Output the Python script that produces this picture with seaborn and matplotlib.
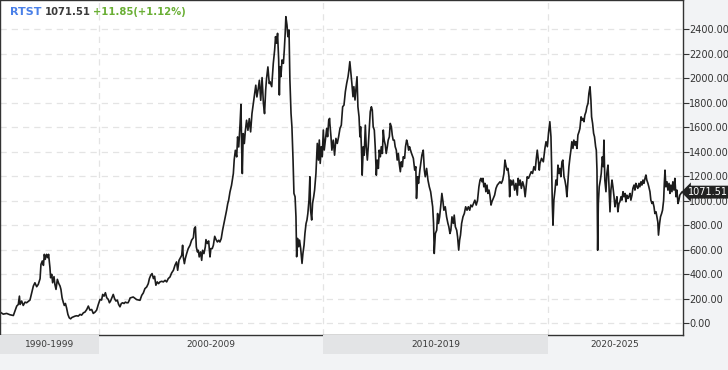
import numpy as np
import pandas as pd
import seaborn as sns
import matplotlib.pyplot as plt
from matplotlib.transforms import blended_transform_factory

sns.set_style('white')
plt.rcParams['font.family'] = ['DejaVu Sans']

# RTS index closes (decimal year, index points)
years_a = [1995.60, 1995.74, 1995.89, 1996.04, 1996.19, 1996.26, 1996.34, 1996.41, 1996.46, 1996.49,
           1996.56, 1996.63, 1996.71, 1996.78, 1996.93, 1997.01, 1997.08, 1997.15, 1997.23, 1997.30,
           1997.38, 1997.42, 1997.48, 1997.53, 1997.57, 1997.61, 1997.67, 1997.72, 1997.76, 1997.82,
           1997.85, 1997.90, 1997.94, 1998.00, 1998.04, 1998.09, 1998.15, 1998.21, 1998.27, 1998.31,
           1998.36, 1998.42, 1998.46, 1998.51, 1998.56, 1998.62, 1998.68, 1998.74, 1998.80, 1998.86,
           1998.94, 1999.01, 1999.08, 1999.16, 1999.23, 1999.31, 1999.38, 1999.46, 1999.53, 1999.60,
           1999.68, 1999.75, 1999.83, 1999.90, 1999.975, 2000.05, 2000.12, 2000.17, 2000.23, 2000.29,
           2000.35, 2000.42, 2000.47, 2000.52, 2000.58, 2000.64, 2000.70, 2000.76, 2000.82, 2000.88,
           2000.94, 2001.00, 2001.06, 2001.12, 2001.18, 2001.24, 2001.30, 2001.36]
values_a = [93, 76, 82, 71, 65, 100, 142, 155, 223, 155,
            183, 147, 174, 169, 191, 251, 305, 332, 300, 319,
            365, 482, 510, 474, 564, 523, 564, 537, 564, 455,
            373, 401, 332, 382, 319, 278, 360, 327, 305, 278,
            210, 169, 147, 163, 128, 74, 46, 38, 49, 54,
            60, 63, 60, 74, 68, 87, 93, 114, 142, 109,
            114, 82, 93, 109, 155, 196, 191, 237, 223, 251,
            210, 196, 169, 183, 210, 237, 202, 183, 191, 155,
            136, 163, 169, 163, 174, 169, 169, 191]

years_b = [2001.39, 2001.53, 2001.68, 2001.83, 2001.91, 2001.98, 2002.05, 2002.13, 2002.20, 2002.25,
           2002.31, 2002.37, 2002.43, 2002.48, 2002.54, 2002.60, 2002.66, 2002.72, 2002.80, 2002.87,
           2002.95, 2003.02, 2003.09, 2003.17, 2003.24, 2003.32, 2003.39, 2003.46, 2003.51, 2003.57,
           2003.61, 2003.69, 2003.73, 2003.76, 2003.81, 2003.85, 2003.91, 2003.98, 2004.06, 2004.13,
           2004.21, 2004.25, 2004.30, 2004.34, 2004.39, 2004.43, 2004.47, 2004.53, 2004.58, 2004.62,
           2004.68, 2004.74, 2004.77, 2004.83, 2004.89, 2004.95, 2004.99, 2005.05, 2005.10, 2005.16,
           2005.22, 2005.28, 2005.34, 2005.39, 2005.45, 2005.51, 2005.57, 2005.63, 2005.69, 2005.74,
           2005.78, 2005.84, 2005.91, 2005.99, 2006.03, 2006.08, 2006.14, 2006.18, 2006.23, 2006.29,
           2006.33, 2006.36, 2006.39, 2006.43, 2006.48, 2006.52, 2006.58, 2006.64, 2006.70, 2006.76,
           2006.82, 2006.88, 2006.94, 2006.99, 2007.04, 2007.10, 2007.15, 2007.21, 2007.27, 2007.33,
           2007.38, 2007.43, 2007.47, 2007.53, 2007.59]
values_b = [208, 216, 195, 189, 230, 249, 284, 298, 325, 366,
            393, 407, 366, 385, 312, 339, 325, 339, 344, 339,
            352, 339, 366, 380, 412, 434, 475, 502, 434, 515,
            529, 556, 638, 543, 488, 529, 570, 611, 638, 679,
            700, 774, 788, 624, 584, 597, 543, 584, 515, 597,
            570, 624, 684, 652, 673, 543, 611, 611, 638, 711,
            684, 665, 679, 665, 692, 760, 815, 869, 924, 978,
            1005, 1073, 1128, 1223, 1337, 1413, 1359, 1522, 1440, 1631,
            1788, 1440, 1223, 1549, 1468, 1563, 1658, 1576, 1671, 1563,
            1712, 1794, 1876, 1944, 1848, 1916, 1984, 1821, 2006, 1794,
            1712, 1903, 1998, 2093, 1957]

years_c = [2007.62, 2007.70, 2007.77, 2007.83, 2007.87, 2007.92, 2007.96, 2008.01, 2008.04, 2008.07,
           2008.11, 2008.16, 2008.22, 2008.26, 2008.30, 2008.33, 2008.38, 2008.42, 2008.47, 2008.51,
           2008.56, 2008.60, 2008.65, 2008.69, 2008.74, 2008.78, 2008.81, 2008.85, 2008.90, 2008.94,
           2008.99, 2009.05, 2009.09, 2009.14, 2009.18, 2009.23, 2009.27, 2009.31, 2009.36, 2009.40,
           2009.43, 2009.48, 2009.52, 2009.57, 2009.61, 2009.67, 2009.73, 2009.78, 2009.82, 2009.86,
           2009.91, 2009.95, 2009.999, 2010.04, 2010.09, 2010.15, 2010.19, 2010.24, 2010.28]
values_c = [1973, 1932, 2122, 2231, 2340, 2286, 2367, 2150, 1864, 2095,
            2014, 2150, 2122, 2231, 2367, 2503, 2435, 2340, 2395, 1986,
            1714, 1605, 1333, 1061, 1034, 871, 544, 694, 626, 680,
            612, 490, 571, 639, 735, 816, 844, 898, 1007, 1197,
            925, 844, 980, 1034, 1088, 1224, 1469, 1333, 1497, 1306,
            1442, 1360, 1578, 1415, 1497, 1592, 1524, 1660, 1673]

years_d = [2010.29, 2010.34, 2010.38, 2010.44, 2010.50, 2010.56, 2010.62, 2010.68, 2010.74, 2010.80,
           2010.86, 2010.92, 2010.98, 2011.04, 2011.10, 2011.14, 2011.18, 2011.23, 2011.27, 2011.32,
           2011.36, 2011.41, 2011.45, 2011.50, 2011.54, 2011.59, 2011.63, 2011.66, 2011.70, 2011.73,
           2011.78, 2011.82, 2011.87, 2011.91, 2011.96, 2012.00, 2012.05, 2012.09, 2012.14, 2012.18,
           2012.22, 2012.27, 2012.31, 2012.36, 2012.40, 2012.45, 2012.49, 2012.54, 2012.58, 2012.63,
           2012.67, 2012.71, 2012.76, 2012.80, 2012.85, 2012.89, 2012.94, 2012.98, 2013.03, 2013.07,
           2013.11, 2013.16, 2013.20, 2013.25, 2013.29, 2013.34, 2013.38, 2013.43, 2013.47, 2013.52,
           2013.56, 2013.62, 2013.66, 2013.71, 2013.75, 2013.80, 2013.84]
values_d = [1632, 1523, 1414, 1496, 1373, 1510, 1469, 1523, 1591, 1618,
            1768, 1782, 1891, 1959, 2013, 2068, 2136, 2041, 1959, 1850,
            1932, 1823, 1904, 2013, 1768, 1686, 1523, 1605, 1414, 1210,
            1442, 1373, 1618, 1442, 1333, 1442, 1605, 1728, 1768, 1741,
            1605, 1578, 1442, 1210, 1333, 1265, 1414, 1360, 1442, 1387,
            1578, 1496, 1456, 1387, 1442, 1496, 1523, 1632, 1605, 1537,
            1496, 1496, 1442, 1414, 1333, 1387, 1306, 1238, 1319, 1279,
            1360, 1347, 1442, 1496, 1469, 1414, 1442]

years_e = [2013.86, 2013.93, 2014.01, 2014.07, 2014.12, 2014.15, 2014.20, 2014.24, 2014.30, 2014.35,
           2014.39, 2014.45, 2014.50, 2014.54, 2014.60, 2014.66, 2014.72, 2014.78, 2014.82, 2014.87,
           2014.91, 2014.94, 2014.99, 2015.05, 2015.09, 2015.13, 2015.18, 2015.24, 2015.28, 2015.33,
           2015.37, 2015.43, 2015.49, 2015.55, 2015.59, 2015.64, 2015.68, 2015.73, 2015.79, 2015.83,
           2015.88, 2015.94, 2015.98, 2016.03, 2016.07, 2016.11, 2016.16, 2016.22, 2016.28, 2016.34,
           2016.40, 2016.46, 2016.52, 2016.57, 2016.63, 2016.69, 2016.75, 2016.81, 2016.87, 2016.93,
           2016.98, 2017.02, 2017.07, 2017.11, 2017.15, 2017.20, 2017.24, 2017.29, 2017.33, 2017.38,
           2017.42, 2017.47, 2017.51, 2017.57, 2017.63, 2017.69, 2017.75, 2017.81, 2017.87, 2017.93,
           2017.99, 2018.045, 2018.09, 2018.13, 2018.18, 2018.22, 2018.27, 2018.30, 2018.34, 2018.40,
           2018.46, 2018.52, 2018.58, 2018.64, 2018.68, 2018.73, 2018.77, 2018.82, 2018.88, 2018.94,
           2018.99, 2019.04, 2019.08, 2019.14, 2019.20, 2019.26, 2019.32, 2019.38, 2019.44, 2019.48,
           2019.53, 2019.57, 2019.62]
values_e = [1428, 1387, 1347, 1251, 1279, 1020, 1197, 1143, 1251, 1319,
            1374, 1414, 1251, 1197, 1265, 1170, 1115, 1075, 1020, 952,
            816, 571, 734, 761, 897, 816, 870, 979, 1061, 993,
            924, 952, 870, 816, 789, 734, 761, 870, 816, 884,
            789, 761, 707, 598, 680, 721, 816, 870, 897, 952,
            924, 952, 924, 966, 952, 979, 1006, 966, 1006, 1115,
            1170, 1184, 1156, 1184, 1115, 1143, 1075, 1129, 1061, 1088,
            1047, 966, 993, 1020, 1047, 1102, 1129, 1143, 1156, 1143,
            1170, 1224, 1333, 1292, 1251, 1265, 1197, 1034, 1170, 1129,
            1170, 1088, 1143, 1047, 1184, 1129, 1170, 1102, 1156, 1115,
            1034, 1129, 1197, 1184, 1211, 1238, 1224, 1279, 1251, 1333,
            1414, 1347, 1251]

years_f = [2019.65, 2019.72, 2019.80, 2019.87, 2019.92, 2019.98, 2020.03, 2020.09, 2020.14, 2020.17,
           2020.20, 2020.23, 2020.27, 2020.32, 2020.36, 2020.41, 2020.45, 2020.50, 2020.54, 2020.58,
           2020.63, 2020.67, 2020.72, 2020.76, 2020.81, 2020.85, 2020.90, 2020.94, 2020.99, 2021.03,
           2021.07, 2021.12, 2021.16, 2021.21, 2021.25, 2021.30, 2021.34, 2021.39, 2021.43, 2021.48,
           2021.52, 2021.56, 2021.61, 2021.65, 2021.70, 2021.74, 2021.79, 2021.83, 2021.88, 2021.92,
           2021.95, 2021.995, 2022.04, 2022.08, 2022.13, 2022.16, 2022.19, 2022.22, 2022.25, 2022.29,
           2022.34, 2022.38, 2022.43, 2022.47, 2022.50, 2022.54, 2022.59, 2022.63, 2022.68, 2022.72,
           2022.77, 2022.81, 2022.86, 2022.90, 2022.95, 2022.99, 2023.03, 2023.08, 2023.12, 2023.17,
           2023.21, 2023.26, 2023.30, 2023.35, 2023.39, 2023.44, 2023.48, 2023.52, 2023.57, 2023.61,
           2023.66, 2023.70, 2023.75, 2023.79, 2023.84, 2023.88, 2023.92, 2023.97, 2024.01, 2024.06,
           2024.10, 2024.15, 2024.19, 2024.24, 2024.28, 2024.33, 2024.37, 2024.41, 2024.46, 2024.50,
           2024.55, 2024.59, 2024.64, 2024.68, 2024.73, 2024.77, 2024.82, 2024.86, 2024.90, 2024.93,
           2024.98, 2025.02, 2025.07, 2025.11, 2025.16, 2025.19, 2025.22, 2025.26, 2025.31, 2025.35,
           2025.40, 2025.44, 2025.48, 2025.53, 2025.57, 2025.62, 2025.66, 2025.71, 2025.75, 2025.80,
           2025.84, 2025.88, 2025.93, 2025.97]
values_f = [1306, 1347, 1319, 1428, 1483, 1442, 1551, 1646, 1523, 1279,
            979, 802, 1006, 1088, 1170, 1129, 1292, 1224, 1265, 1197,
            1319, 1333, 1197, 1170, 1115, 1034, 1170, 1279, 1360, 1414,
            1483, 1428, 1496, 1455, 1483, 1428, 1537, 1564, 1591, 1686,
            1659, 1673, 1646, 1700, 1727, 1768, 1795, 1877, 1931, 1822,
            1686, 1632, 1551, 1523, 1442, 1414, 1251, 598, 979, 1115,
            1170, 1224, 1360, 1279, 1496, 1170, 1075, 1224, 1292, 1143,
            911, 1088, 1170, 1115, 1034, 952, 993, 1034, 911, 979,
            993, 1034, 1006, 1075, 1034, 1061, 993, 1047, 1020, 1034,
            1061, 1006, 1047, 1102, 1129, 1088, 1143, 1115, 1102, 1143,
            1115, 1156, 1129, 1170, 1143, 1184, 1211, 1170, 1143, 1115,
            1075, 1006, 979, 993, 952, 897, 911, 870, 829, 721,
            816, 870, 897, 924, 1006, 1143, 1251, 1115, 1156, 1088,
            1143, 1061, 1129, 1075, 1156, 1088, 1184, 1034, 1088, 979,
            1006, 1047, 1061, 1071.51]

ticker = 'RTST'
last_close = 1071.51
change = '+11.85(+1.12%)'

decade_starts = [1990, 2000, 2010, 2020]
decade_ends = [2000, 2010, 2020, 2030]
decade_labels = ['1990-1999', '2000-2009', '2010-2019', '2020-2025']

df = pd.DataFrame({
    'year': np.concatenate([years_a, years_b, years_c, years_d, years_e, years_f]),
    'close': np.concatenate([values_a, values_b, values_c, values_d, values_e, values_f]),
})

W, H = 728, 370
fig = plt.figure(figsize=(W / 100, H / 100), dpi=100)
fig.patch.set_facecolor('#f2f3f5')

ax = fig.add_axes([0, 1 - 334.5 / H, 682.5 / W, 334.5 / H])
ax.set_facecolor('white')
xlim = (1995.595, 2026.0)

sns.lineplot(data=df, x='year', y='close', ax=ax, color='#1c1c1c',
             linewidth=1.2, estimator=None, sort=False)

ax.set_xlim(*xlim)
ax.set_ylim(-90, 2639)
ax.set_xlabel('')
ax.set_ylabel('')

for v in range(0, 2401, 200):
    ax.axhline(v, color='#e4e4e4', linewidth=0.9, dashes=(5, 4), zorder=0)
for d in decade_starts[1:]:
    ax.axvline(d, color='#e4e4e4', linewidth=0.9, dashes=(5, 4), zorder=0)

ax.set_xticks([])
ax.yaxis.tick_right()
ax.set_yticks(range(0, 2401, 200))
ax.set_yticklabels([f'{v:.2f}' for v in range(0, 2401, 200)])
ax.tick_params(axis='y', direction='out', length=4, width=0.8, color='#333333',
               labelsize=7, labelcolor='#333333', pad=1, right=True, left=False)
for s in ax.spines.values():
    s.set_visible(True)
    s.set_color('#333333')
    s.set_linewidth(1.0)

# last price tag
trans = blended_transform_factory(ax.transAxes, ax.transData)
ax.annotate(f'{last_close:.2f}', xy=(1.0, last_close), xycoords=trans,
            xytext=(4, 0), textcoords='offset points', ha='left', va='center',
            fontsize=7, color='white', annotation_clip=False,
            bbox=dict(boxstyle='larrow,pad=0.15', fc='#222222', ec='none'))

# decade bands below the plot
bax = fig.add_axes([0, 1 - 354 / H, 682.5 / W, 19 / H])
bax.set_xlim(*xlim)
bax.set_ylim(0, 1)
bax.axis('off')
for i, (s, e, lab) in enumerate(zip(decade_starts, decade_ends, decade_labels)):
    a, b = max(s, xlim[0]), min(e, xlim[1])
    if i % 2 == 0:
        bax.axvspan(a, b, color='#e3e4e6', linewidth=0)
    bax.text((a + b) / 2, 0.5, lab, ha='center', va='center', fontsize=6.5, color='#3a3a3a')

# header, laid out left to right
renderer = fig.canvas.get_renderer()
x = 10
for txt, col, size in [(ticker, '#4a80e8', 8), (f'{last_close:.2f}', '#3a3a3a', 7.2), (change, '#6aaf35', 7.2)]:
    t = fig.text(x / W, 1 - 12 / H, txt, color=col, fontweight='bold', fontsize=size, va='center')
    x = t.get_window_extent(renderer).x1 + 3

fig.savefig('out.png', dpi=100, facecolor=fig.get_facecolor())
